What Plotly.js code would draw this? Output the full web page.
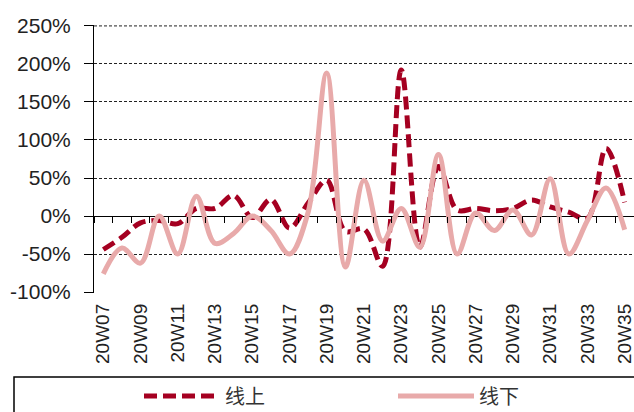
<!DOCTYPE html>
<html>
<head>
<meta charset="utf-8">
<script src="https://cdn.plot.ly/plotly-3.0.1.min.js"></script>
<style>html,body{margin:0;padding:0;background:#fff;}#chart{width:634px;height:412px;}</style>
</head>
<body>
<div id="chart"></div>
<script>
var weeks = ["20W07","20W08","20W09","20W10","20W11","20W12","20W13","20W14","20W15","20W16","20W17","20W18","20W19","20W20","20W21","20W22","20W23","20W24","20W25","20W26","20W27","20W28","20W29","20W30","20W31","20W32","20W33","20W34","20W35"];
var online = [-44,-28,-9,-6,-10,10,10,27,-2,22,-16,17,47,-20,-17,-66,192,-41,65,8,10,7,10,21,12,5,-3,89,18];
var offline = [-76,-42,-62,0,-50,26,-36,-23,0,-19,-50,5,188,-67,47,-33,10,-41,81,-50,4,-19,8,-25,49,-50,-6,37,-18];
var yTicks = [-100,-50,0,50,100,150,200,250];
var yTickText = yTicks.map(function(v){ return v + "%"; });
var xTickLabels = weeks.filter(function(w, i){ return i % 2 === 0; });
var seriesNames = ["线上","线下"];

var traces = [
  {x: weeks, y: online, name: seriesNames[0], type: "scatter", mode: "lines",
   line: {color: "#A50021", width: 5, dash: "13px,6px", shape: "spline", smoothing: 1},
   xaxis: "x", yaxis: "y", hoverinfo: "skip", legend: "legend"},
  {x: weeks, y: offline, name: seriesNames[1], type: "scatter", mode: "lines",
   line: {color: "#E8AAAA", width: 5, shape: "spline", smoothing: 1},
   xaxis: "x2", yaxis: "y", hoverinfo: "skip", legend: "legend2"}
];

var yMin = yTicks[0], yMax = yTicks[yTicks.length-1], yPad = 1.2;
var zeroPos = (0 - (yMin - yPad)) / ((yMax + yPad) - (yMin - yPad));
var legendFont = {family: "Noto Sans CJK SC", size: 20, color: "#333"};

var layout = {
  width: 634, height: 412,
  margin: {l: 94, r: 0, t: 25, b: 119, pad: 0, autoexpand: false},
  paper_bgcolor: "#ffffff", plot_bgcolor: "#ffffff",
  font: {family: "Liberation Sans, Arial, sans-serif", color: "#222"},
  showlegend: true,
  xaxis: {type: "category", range: [-0.5, weeks.length - 0.5], tickmode: "array",
    tickvals: xTickLabels, ticktext: xTickLabels, tickangle: -90, automargin: false,
    ticks: "", showline: false, showgrid: false, zeroline: false,
    tickfont: {size: 19, color: "#222"}, ticklabelstandoff: 6, fixedrange: true},
  xaxis2: {type: "category", overlaying: "x", anchor: "free", position: zeroPos,
    range: [-0.5, weeks.length - 0.5], showticklabels: false, ticks: "outside", automargin: false,
    ticklen: 6, tickcolor: "#000", tickwidth: 1, tickson: "boundaries",
    showline: false, showgrid: false, zeroline: false, fixedrange: true},
  yaxis: {range: [yMin - yPad, yMax + yPad], tickmode: "array", tickvals: yTicks,
    ticktext: yTickText, ticks: "outside", ticklen: 9, tickcolor: "#000", tickwidth: 1,
    showline: true, linecolor: "#000", linewidth: 1, automargin: false,
    showgrid: true, gridcolor: "#222", gridwidth: 1, griddash: "3px,2px",
    zeroline: true, zerolinecolor: "#000", zerolinewidth: 1,
    tickfont: {size: 21, color: "#222"}, ticklabelstandoff: 9, fixedrange: true},
  legend: {xref: "container", yref: "container", x: 139 / 634, xanchor: "left",
    y: (412 - 396) / 412, yanchor: "middle", bgcolor: "rgba(0,0,0,0)",
    borderwidth: 0, itemwidth: 76, font: legendFont},
  legend2: {xref: "container", yref: "container", x: 393 / 634, xanchor: "left",
    y: (412 - 396) / 412, yanchor: "middle", bgcolor: "rgba(0,0,0,0)",
    borderwidth: 0, itemwidth: 76, font: legendFont},
  shapes: [
    {type: "line", xref: "paper", yref: "y", x0: 0, x1: 1, y0: yMax, y1: yMax,
     line: {color: "#222", width: 1, dash: "3px,2px"}, layer: "below"},
    {type: "rect", xref: "paper", yref: "paper",
    x0: (14 - 94) / 540, x1: 1.2, y0: -0.7, y1: (292 - 376) / 268,
    line: {color: "#000", width: 1.5}, fillcolor: "rgba(0,0,0,0)", layer: "below"}]
};

Plotly.newPlot("chart", traces, layout, {staticPlot: true, displayModeBar: false});
</script>
</body>
</html>
